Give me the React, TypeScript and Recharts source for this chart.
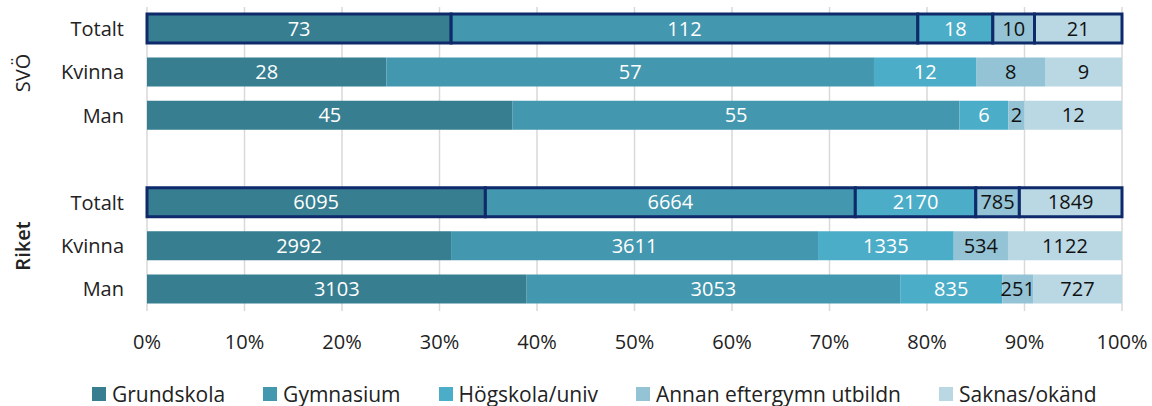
import { Bar, BarChart, CartesianGrid, Cell, LabelList, XAxis, YAxis } from 'recharts';

const rowLabels = ['Totalt', 'Kvinna', 'Man', '', 'Totalt', 'Kvinna', 'Man'];
const groups = ['SVÖ', 'Riket'];

const grundskola = [73, 28, 45, null, 6095, 2992, 3103];
const gymnasium = [112, 57, 55, null, 6664, 3611, 3053];
const hogskola = [18, 12, 6, null, 2170, 1335, 835];
const annan = [10, 8, 2, null, 785, 534, 251];
const saknas = [21, 9, 12, null, 1849, 1122, 727];

const xTicks = [0, 0.1, 0.2, 0.3, 0.4, 0.5, 0.6, 0.7, 0.8, 0.9, 1];

const series = [
  { key: 'grundskola', name: 'Grundskola', color: '#367E90', text: '#ffffff' },
  { key: 'gymnasium', name: 'Gymnasium', color: '#4397AF', text: '#ffffff' },
  { key: 'hogskola', name: 'Högskola/univ', color: '#4BADC7', text: '#ffffff' },
  { key: 'annan', name: 'Annan eftergymn utbildn', color: '#93C3D5', text: '#111111' },
  { key: 'saknas', name: 'Saknas/okänd', color: '#B9D8E4', text: '#111111' },
];

const data = rowLabels.map((label, i) => ({
  id: `r${i}`,
  label,
  grundskola: grundskola[i],
  gymnasium: gymnasium[i],
  hogskola: hogskola[i],
  annan: annan[i],
  saknas: saknas[i],
}));

const FONT = '"Open Sans", Lato, sans-serif';

export default function App() {
  return (
    <div style={{ position: 'absolute', left: 0, top: 0, width: 1152, height: 406, background: '#fff', fontFamily: FONT }}>
      <BarChart
        width={1152}
        height={406}
        data={data}
        layout="vertical"
        stackOffset="expand"
        barSize={29}
        margin={{ top: 7, right: 30, left: 0, bottom: 65 }}
      >
        <CartesianGrid horizontal={false} stroke="#D9D9D9" strokeWidth={1.5} />
        <XAxis
          type="number"
          domain={[0, 1]}
          ticks={xTicks}
          tickFormatter={(v: number) => `${Math.round(v * 100)}%`}
          axisLine={false}
          tickLine={false}
          tickSize={0}
          tickMargin={24}
          tick={{ fill: '#222', fontSize: 20, fontFamily: FONT }}
          height={30}
        />
        <YAxis
          type="category"
          dataKey="id"
          width={147}
          axisLine={false}
          tickLine={false}
          tickSize={0}
          tickMargin={23}
          tickFormatter={(v: string) => data.find((d) => d.id === v)?.label ?? ''}
          tick={{ fill: '#222', fontSize: 20, fontFamily: FONT }}
        />
        {series.map((s) => (
          <Bar key={s.key} dataKey={s.key} name={s.name} stackId="a" fill={s.color} isAnimationActive={false}>
            {data.map((d) => (
              <Cell
                key={d.id}
                fill={s.color}
                stroke={d.label === 'Totalt' ? '#0E2A6B' : 'none'}
                strokeWidth={d.label === 'Totalt' ? 3 : 0}
              />
            ))}
            <LabelList dataKey={s.key} position="center" fill={s.text} fontSize={20} fontFamily={FONT} />
          </Bar>
        ))}
      </BarChart>
      {groups.map((g, i) => (
        <div
          key={g}
          style={{
            position: 'absolute',
            left: 22,
            top: i === 0 ? 73 : 246,
            transform: 'translate(-50%, -50%) rotate(-90deg)',
            fontSize: 20,
            color: '#222',
            whiteSpace: 'nowrap',
            fontWeight: i === 1 ? 600 : 400,
          }}
        >
          {g}
        </div>
      ))}
      {/* legend, drawn outside the svg so the plot area keeps its size */}
      <div
        style={{
          position: 'absolute',
          left: 92,
          top: 380,
          display: 'flex',
          alignItems: 'center',
          gap: 38,
          fontSize: 21,
          color: '#222',
          whiteSpace: 'nowrap',
        }}
      >
        {series.map((s) => (
          <div key={s.key} style={{ display: 'flex', alignItems: 'center', gap: 6 }}>
            <span style={{ display: 'inline-block', width: 14, height: 14, background: s.color }} />
            <span>{s.name}</span>
          </div>
        ))}
      </div>
    </div>
  );
}
